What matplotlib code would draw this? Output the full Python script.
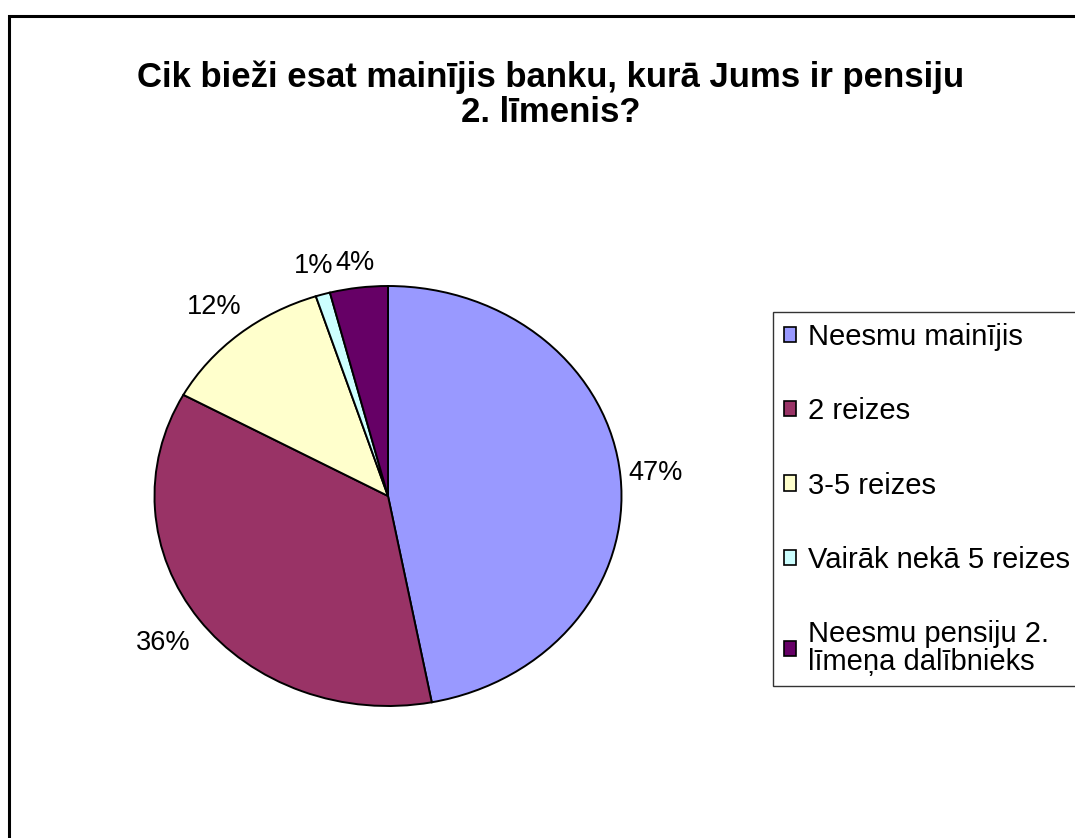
import matplotlib
matplotlib.use("Agg")
import numpy as np
import matplotlib.pyplot as plt
from matplotlib.patches import Rectangle

plt.rcParams['font.family'] = ['Liberation Sans', 'DejaVu Sans']

title = "Cik bieži esat mainījis banku, kurā Jums ir pensiju\n2. līmenis?"
categories = ["Neesmu mainījis", "2 reizes", "3-5 reizes",
              "Vairāk nekā 5 reizes", "Neesmu pensiju 2.\nlīmeņa dalībnieks"]
values = [47, 36, 12, 1, 4]
colors = ["#9999FF", "#993366", "#FFFFCC", "#CCFFFF", "#660066"]

# label distance from centre (in pie radii), Excel-like placement
label_radius = [1.15, 1.19, 1.165, 1.14, 1.12]

W, H = 1075, 838
fig = plt.figure(figsize=(W / 100, H / 100), dpi=100)

# outer frame
fig.patches.append(Rectangle((9 / W, -0.05), 1.1, 1 - 16 / H + 0.05,
                             transform=fig.transFigure, fill=False,
                             edgecolor='black', linewidth=2.2, clip_on=False))

cx, cy, rx, ry = 388, 496, 233.5, 210
ax = fig.add_axes([(cx - rx) / W, 1 - (cy + ry) / H, 2 * rx / W, 2 * ry / H])
wedges, texts, autotexts = ax.pie(values, colors=colors, startangle=90,
                                  counterclock=False, autopct='%d%%',
                                  pctdistance=1.15,
                                  wedgeprops=dict(edgecolor='black', linewidth=1.4),
                                  textprops=dict(fontsize=19.5, color='black'))
for w, t, r in zip(wedges, autotexts, label_radius):
    ang = np.deg2rad((w.theta1 + w.theta2) / 2)
    t.set_position((r * np.cos(ang), r * np.sin(ang)))
    t.set_ha('center')
    t.set_va('center')
ax.set_aspect('auto')
ax.set_xlim(-1, 1)
ax.set_ylim(-1, 1)
ax.axis('off')

fig.text(551 / W, 1 - 95 / H, title, ha='center', va='center',
         fontsize=25, fontweight='bold', linespacing=1.08)

leg = fig.legend(wedges, categories, loc='upper left',
                 bbox_to_anchor=(773 / W, 1 - 312 / H), borderaxespad=0,
                 fontsize=21, frameon=True, fancybox=False,
                 handlelength=0.43, handleheight=0.43, handletextpad=0.4,
                 labelspacing=1.59, borderpad=0.37)
leg.get_frame().set_edgecolor('black')
leg.get_frame().set_linewidth(1.0)
for h in leg.legend_handles:
    h.set_linewidth(1.2)
for t in leg.get_texts():
    t.set_linespacing(0.97)

fig.savefig("out.png", dpi=100)
